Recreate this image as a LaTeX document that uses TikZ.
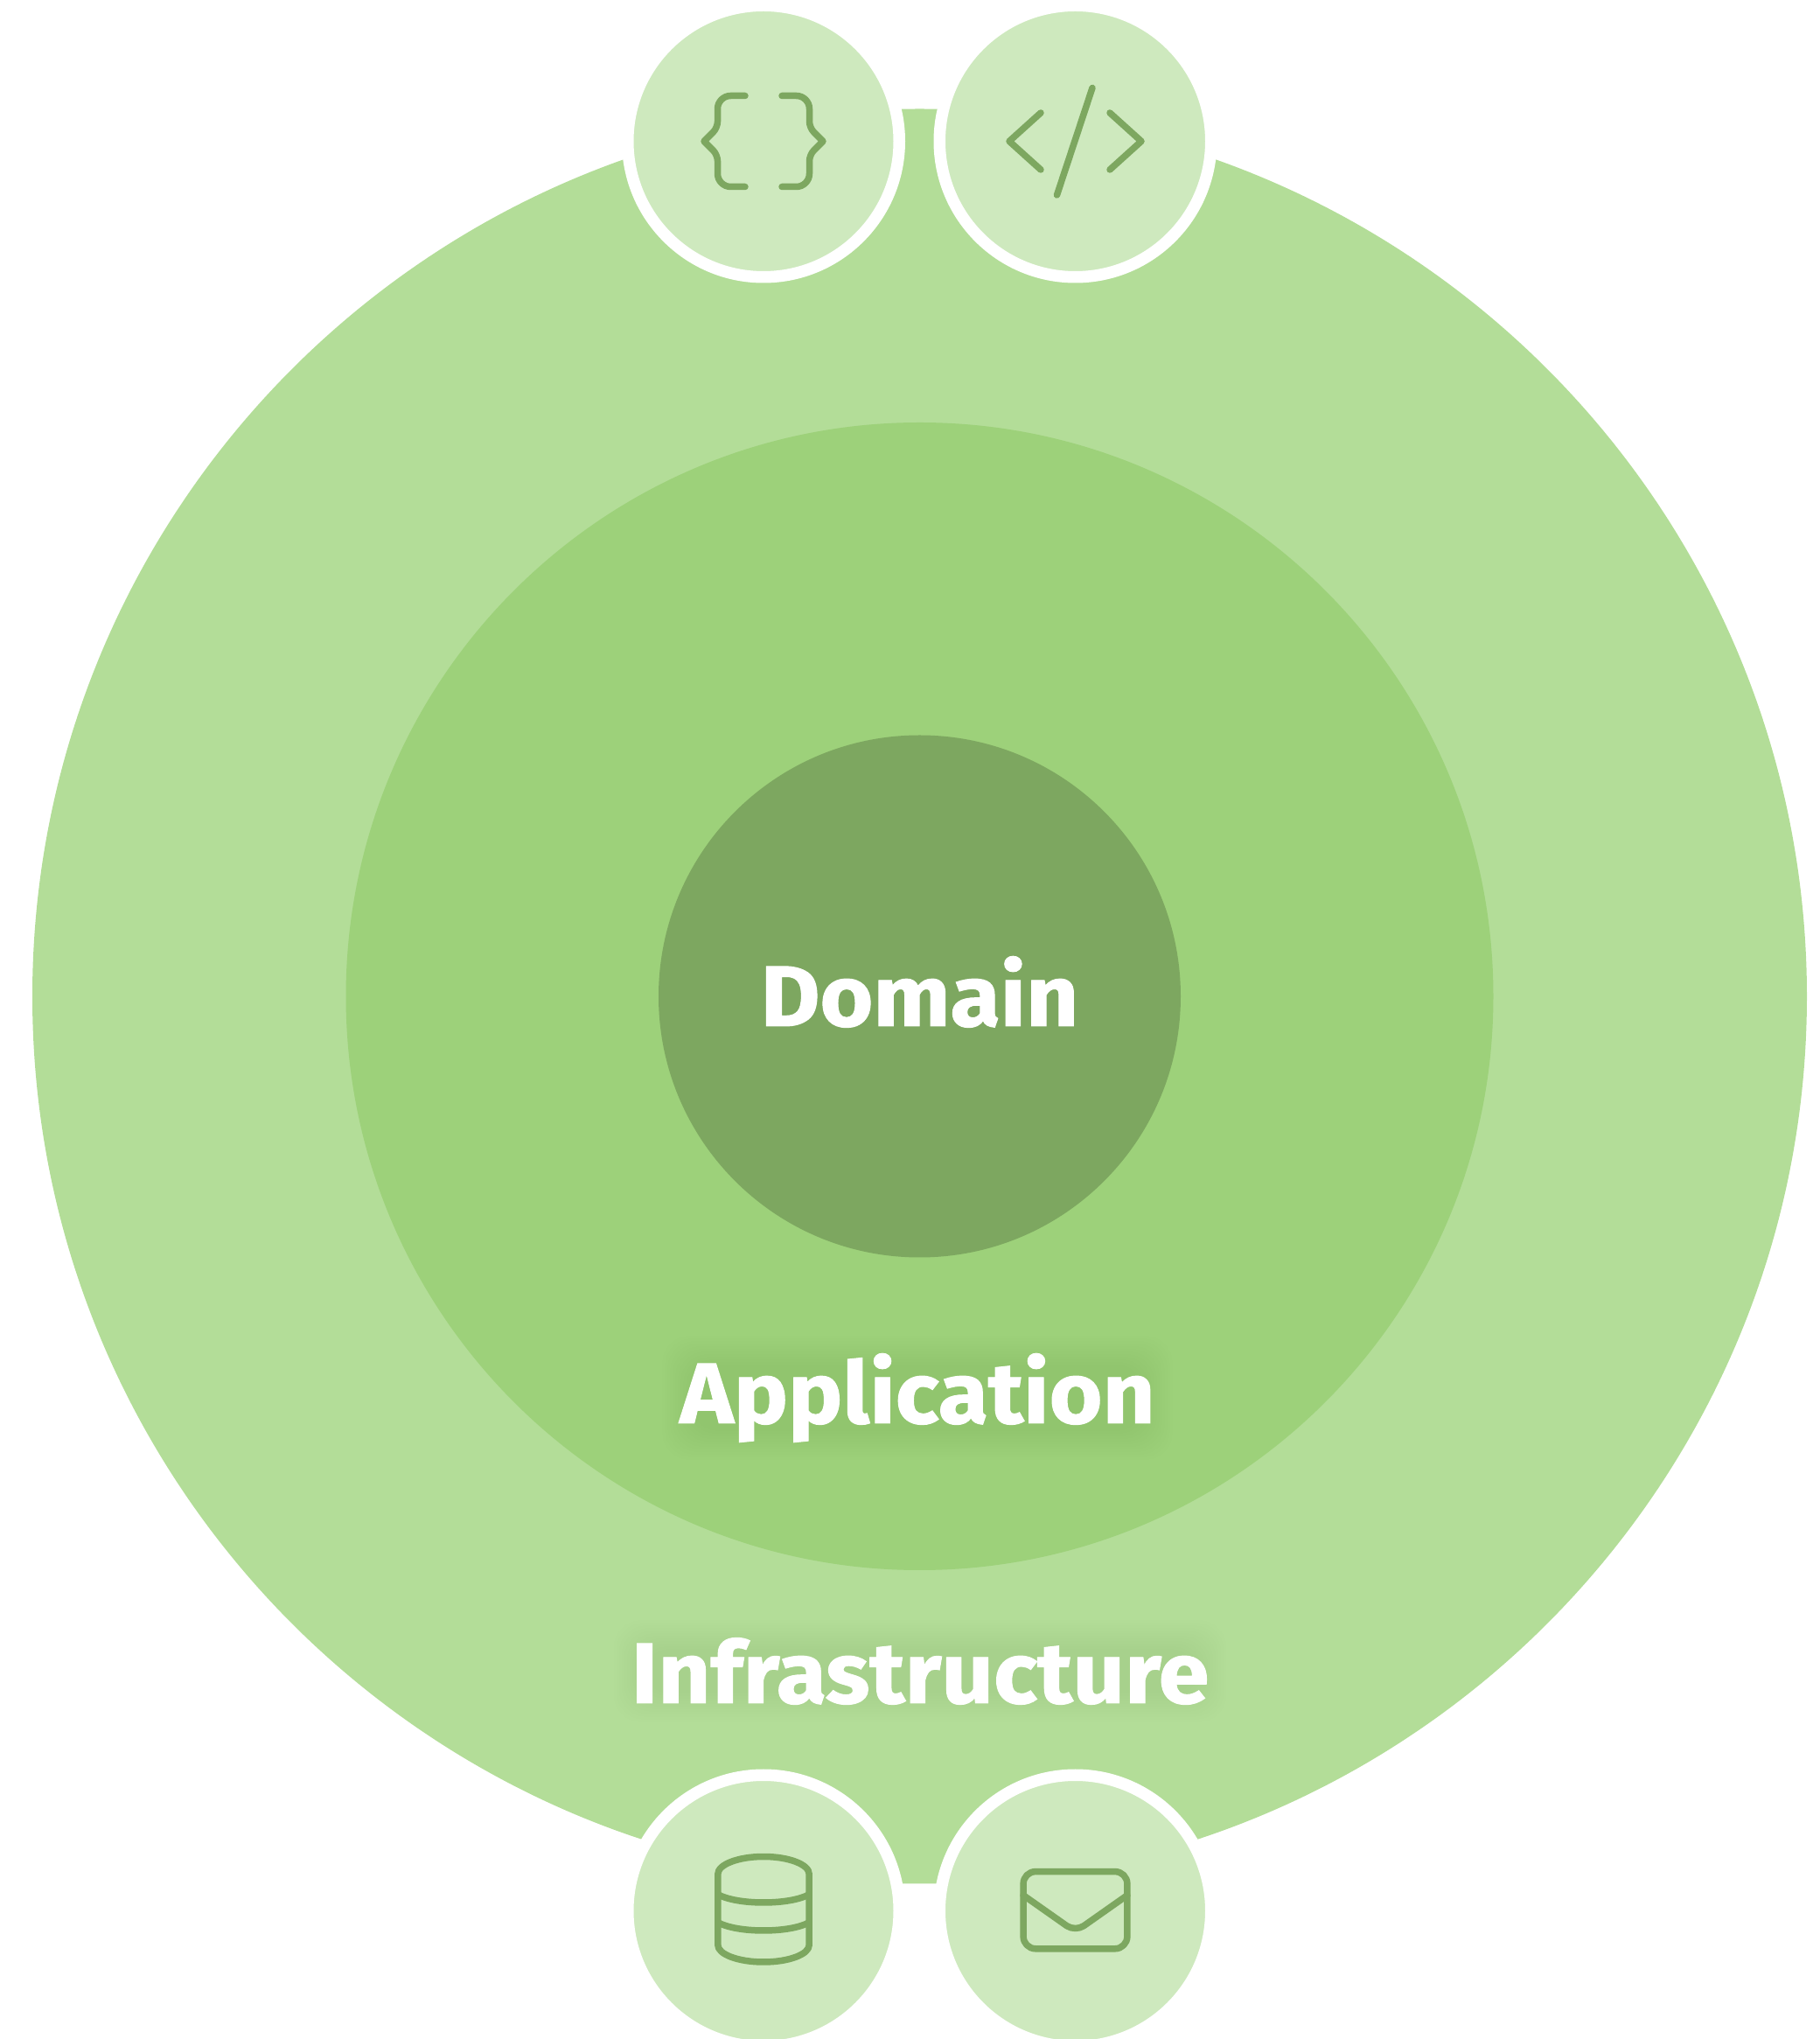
\documentclass[tikz,border=0pt]{standalone}
\usepackage{fontspec}
\newfontfamily\namefont{Fira Sans Bold}[FakeStretch=1.06,FakeBold=1]
\definecolor{outergreen}{HTML}{B3DD98}
\definecolor{middlegreen}{HTML}{9DD17A}
\definecolor{innergreen}{HTML}{7DA760}
\definecolor{badgegreen}{HTML}{CEE9BE}
\pgfdeclarelayer{names}
\pgfsetlayers{main,names}
\tikzset{
  disc/.style={circle,inner sep=0pt,outer sep=0pt},
  badge/.style={disc,fill=badgegreen,draw=white,line width=.135cm,minimum size=3.105cm},
  iconline/.style={draw=innergreen,line width=.075cm},
  layername/.style={anchor=base,inner sep=0pt,text=white,font=\fontsize{28}{28}\selectfont\namefont},
}
% soft dark patch behind a layer name
\newcommand{\halo}[1]{%
  \foreach \g in {0,3,...,33}
    \fill[innergreen!60!black,opacity=.007,rounded corners=.3cm]
      ([shift={(-\g*.01+.14,-\g*.01+.14)}]#1.south west) rectangle ([shift={(\g*.01-.14,\g*.01-.14)}]#1.north east);
}

\begin{document}
\begin{tikzpicture}[line cap=round,line join=round]
  \useasboundingbox (0,0) rectangle (20.8,23.31);
  \coordinate (c) at (10.515,11.92);
  \node[disc,fill=outergreen,minimum size=20.29cm] (infra) at (c) {};
  \node[disc,fill=middlegreen,minimum size=13.12cm] (appl) at (c) {};
  \node[disc,fill=innergreen,minimum size=5.97cm] (dom) at (c) {};
  % layer names
  \begin{pgfonlayer}{names}
    \node[layername] (domname) at (10.515,11.58) {Domain};
    \node[layername] (appname) at (10.49,7.04) {Application};
    \node[layername] (infraname) at (10.52,3.84) {Infrastructure};
  \end{pgfonlayer}
  \halo{appname}
  \halo{infraname}
  % badges
  \node[badge] (braces) at (8.73,21.695) {};
  \node[badge] (tags) at (12.295,21.695) {};
  \node[badge] (db) at (8.73,1.465) {};
  \node[badge] (mail) at (12.295,1.465) {};
  % curly braces
  \foreach \s in {1,-1}
    \draw[iconline,shift={(braces.center)},xscale=\s,rounded corners=.15cm]
      (-.21,.52) -- (-.525,.52) [rounded corners=.07cm] -- (-.525,.155) [sharp corners] -- (-.68,0)
      [rounded corners=.07cm] -- (-.525,-.155) [rounded corners=.15cm] -- (-.525,-.52) -- (-.21,-.52);
  % code tag
  \foreach \s in {1,-1}
    \draw[iconline,shift={(tags.center)},xscale=\s] (-.395,.325) -- (-.755,0) -- (-.395,-.325);
  \draw[iconline,shift={(tags.center)}] (.195,.61) -- (-.21,-.615);
  % database
  \draw[iconline,shift={(db.center)}] (-.522,.42)
    arc[start angle=180,end angle=0,x radius=.522,y radius=.2] -- (.522,-.39)
    arc[start angle=360,end angle=180,x radius=.522,y radius=.195] -- cycle;
  \draw[iconline,shift={(db.center)}] (-.522,.188) .. controls (-.3,.064) and (.3,.064) .. (.522,.188);
  \draw[iconline,shift={(db.center)}] (-.522,-.132) .. controls (-.3,-.256) and (.3,-.256) .. (.522,-.132);
  % envelope
  \draw[iconline,shift={(mail.center)},rounded corners=.14cm] (-.594,-.433) rectangle (.594,.449);
  \draw[iconline,shift={(mail.center)},rounded corners=.12cm] (-.594,.178) -- (0,-.24) -- (.594,.178);
\end{tikzpicture}
\end{document}
